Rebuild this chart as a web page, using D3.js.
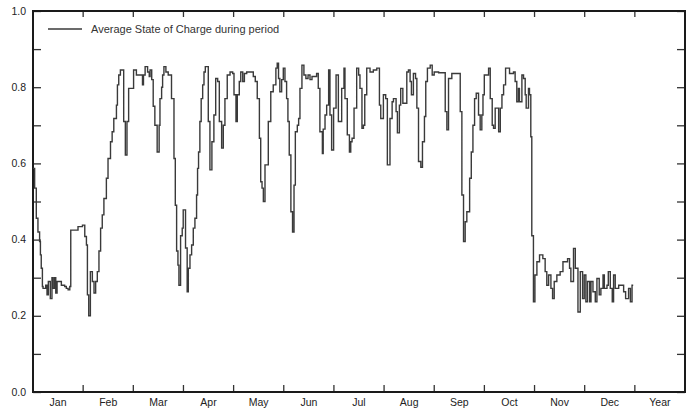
<!DOCTYPE html>
<html>
<head>
<meta charset="utf-8">
<script src="https://cdn.jsdelivr.net/npm/d3@7"></script>
<style>
  body { margin: 0; background: #fff; }
  svg { display: block; font-family: "Liberation Sans", Arial, sans-serif; }
</style>
</head>
<body>
<svg id="chart" width="691" height="409"></svg>
<script>
// x-axis categories (months + the annual column)
const months = ['Jan', 'Feb', 'Mar', 'Apr', 'May', 'Jun', 'Jul', 'Aug', 'Sep', 'Oct', 'Nov', 'Dec', 'Year'];
const yTickLabels = [0, 0.2, 0.4, 0.6, 0.8, 1.0];
const legendLabel = 'Average State of Charge during period';

// day of year where the step value changes, and the value from that day on
const changeDay = [
  0, 1, 2, 3, 4, 4.5, 5, 5.7, 6.1, 7.7, 8.5, 9.3, 10.5, 11.5, 12.1, 13, 13.8, 14.6, 17.2, 19.2, 20.2, 21.3, 22.3,
  22.9, 27.3, 30, 31.4, 32.4, 33, 33.8, 34.8, 36, 37, 38, 39, 40, 41, 42, 43, 44.5, 45.5, 47, 48, 49, 50.6, 51.2, 52, 53,
  55, 56, 57, 58, 61, 62.7, 66.4, 67, 68, 69.5, 70.5, 71, 72, 72.9, 73.9, 75.3, 76.5, 77, 78, 78.6, 79.4, 80.6, 82, 84,
  85.5, 86.3, 87.1, 87.9, 88.5, 89.5, 90.5, 91.1, 92.5, 93.5, 94.2, 95.2, 96.2, 97.2, 98.2, 99.2, 99.8, 100.4, 101.2, 102,
  102.9, 103.7, 104.5, 106.3, 107.3, 108.5, 109.7, 110.8, 112, 113, 114.4, 115.4, 116.4, 117.8, 119.5, 121.1, 121.9, 123.1,
  123.9, 125.1, 126, 127.2, 128.2, 129.6, 133.6, 134.8, 136, 137.3, 138.1, 138.9, 139.7, 140.7, 142.7, 144.2, 145.7, 147.3,
  148.1, 148.9, 149.7, 150.8, 151.8, 152.8, 153.8, 154.6, 155.4, 156.4, 157.4, 158.3, 159.1, 160.3, 161.1, 161.9, 163.1,
  164.3, 165.5, 166.8, 168, 169.2, 172, 173, 174, 175.5, 176, 177.1, 178.1, 179.3, 180.1, 181.1, 182.3, 183.8, 185.2, 187.2,
  188.6, 189.2, 190.6, 191.9, 192.7, 193.5, 194.7, 196.3, 197.5, 198.3, 199.5, 200.4, 201.2, 202.4, 204.4, 206.4, 208.5,
  210.1, 210.9, 212.5, 213.9, 214.9, 216.5, 217.8, 218.6, 220.2, 221, 222.2, 223, 224.3, 226.7, 227.7, 228.7, 229.5, 230.7,
  232, 232.8, 233.8, 235.2, 236.2, 237.4, 238.2, 239.2, 240.9, 242.1, 243.3, 246, 250, 251, 252, 254, 259.1, 260.1, 261.1,
  262.1, 263.1, 264.8, 265.8, 266.8, 267.8, 268.8, 270.2, 271.2, 272.2, 272.9, 273.7, 276.3, 277.3, 278.5, 279.3, 280.3,
  282.4, 283.4, 284.4, 285.4, 286.6, 289, 291.4, 292.4, 293.4, 294.4, 295, 296.5, 297.5, 298.5, 299.1, 300.5, 301.1, 301.9,
  302.5, 303.5, 304.4, 305.6, 307.2, 309.2, 310.6, 311.6, 312.7, 314.1, 315.1, 316.1, 317.7, 319.7, 321.4, 324.2, 325.4,
  326.2, 327.8, 328.9, 330.5, 331.9, 333.3, 334.3, 335.3, 336.3, 337.6, 338.4, 339.6, 341, 342, 343.4, 344.4, 345.7, 346.5,
  348.1, 348.9, 350.1, 351.3, 352.1, 353.1, 355.2, 358.2, 359.4, 361.2, 362.3, 363.3
];
const soc = [
  0.587, 0.535, 0.456, 0.42, 0.395, 0.36, 0.325, 0.277, 0.272, 0.28, 0.255, 0.29, 0.245, 0.30, 0.272, 0.30, 0.26, 0.29, 0.28, 0.277, 0.272, 0.268, 0.277,
  0.425, 0.434, 0.438, 0.408, 0.386, 0.255, 0.20, 0.316, 0.29, 0.26, 0.29, 0.316, 0.37, 0.43, 0.465, 0.508, 0.561, 0.613, 0.657, 0.683, 0.718, 0.753, 0.806, 0.832, 0.845,
  0.71, 0.622, 0.71, 0.797, 0.845, 0.832, 0.806, 0.832, 0.854, 0.84, 0.828, 0.845, 0.82, 0.75, 0.70, 0.63, 0.70, 0.77, 0.80, 0.832, 0.854, 0.84, 0.832, 0.77,
  0.613, 0.49, 0.37, 0.333, 0.28, 0.41, 0.43, 0.478, 0.378, 0.263, 0.325, 0.36, 0.386, 0.43, 0.456, 0.517, 0.587, 0.63, 0.71, 0.77,
  0.806, 0.84, 0.854, 0.71, 0.583, 0.657, 0.727, 0.823, 0.815, 0.71, 0.64, 0.70, 0.77, 0.832, 0.84, 0.836, 0.78, 0.71,
  0.78, 0.815, 0.84, 0.815, 0.836, 0.84, 0.828, 0.815, 0.77, 0.666, 0.552, 0.535, 0.50, 0.596, 0.71, 0.788, 0.806, 0.85,
  0.863, 0.823, 0.788, 0.82, 0.85, 0.815, 0.77, 0.71, 0.622, 0.473, 0.42, 0.543, 0.683, 0.70, 0.718, 0.797, 0.858,
  0.832, 0.823, 0.832, 0.82, 0.828, 0.836, 0.797, 0.683, 0.626, 0.69, 0.727, 0.753, 0.845, 0.727, 0.635, 0.745, 0.832, 0.71, 0.797,
  0.85, 0.77, 0.675, 0.63, 0.657, 0.666, 0.745, 0.85, 0.832, 0.797, 0.692, 0.70, 0.78, 0.85, 0.84, 0.845, 0.85,
  0.753, 0.718, 0.78, 0.77, 0.596, 0.718, 0.762, 0.77, 0.736, 0.68, 0.753, 0.797, 0.758, 0.84, 0.845, 0.815, 0.78, 0.836,
  0.823, 0.745, 0.605, 0.59, 0.657, 0.723, 0.815, 0.85, 0.858, 0.832, 0.84, 0.838, 0.736, 0.688, 0.823, 0.836, 0.736, 0.517, 0.395,
  0.447, 0.473, 0.561, 0.63, 0.70, 0.77, 0.784, 0.727, 0.688, 0.727, 0.78, 0.832, 0.85, 0.77, 0.70, 0.692, 0.745,
  0.683, 0.745, 0.78, 0.806, 0.85, 0.836, 0.84, 0.815, 0.762, 0.797, 0.762, 0.832, 0.823, 0.78, 0.745, 0.797, 0.78, 0.67,
  0.41, 0.237, 0.307, 0.342, 0.36, 0.35, 0.316, 0.28, 0.307, 0.272, 0.245, 0.29, 0.307, 0.316, 0.342, 0.35, 0.325,
  0.29, 0.377, 0.325, 0.21, 0.316, 0.245, 0.307, 0.237, 0.29, 0.237, 0.29, 0.263, 0.237, 0.298, 0.255, 0.272, 0.307, 0.272,
  0.28, 0.316, 0.272, 0.237, 0.307, 0.272, 0.28, 0.263, 0.245, 0.272, 0.237, 0.28
];
const lastDay = 364;

const margin = { top: 11, right: 6, bottom: 17, left: 33 };
const width = 691 - margin.left - margin.right;
const height = 409 - margin.top - margin.bottom;
const daysPerMonth = 365 / 12;

const svg = d3.select('#chart')
  .append('g')
  .attr('transform', `translate(${margin.left},${margin.top})`);

// scales
const xScale = d3.scaleLinear()
  .domain([0, daysPerMonth * months.length])
  .range([0, width]);
const xBand = d3.scaleBand()
  .domain(months)
  .range([0, width])
  .padding(0);
const yScale = d3.scaleLinear()
  .domain([0, 1])
  .range([height, 0]);

const tickColor = '#333';

// month boundary ticks (inward, bottom and top)
const boundaries = d3.range(1, months.length).map(i => xBand(months[i]));
svg.append('g').selectAll('line')
  .data(boundaries)
  .enter().append('line')
  .attr('x1', d => d).attr('x2', d => d)
  .attr('y1', height).attr('y2', height - 7)
  .attr('stroke', tickColor).attr('stroke-width', 1.3);
svg.append('g').selectAll('line')
  .data(boundaries)
  .enter().append('line')
  .attr('x1', d => d).attr('x2', d => d)
  .attr('y1', 0).attr('y2', 6)
  .attr('stroke', tickColor).attr('stroke-width', 1.3);

// month labels
svg.append('g').selectAll('text')
  .data(months)
  .enter().append('text')
  .attr('x', d => xBand(d) + xBand.bandwidth() / 2)
  .attr('y', height + 14)
  .attr('text-anchor', 'middle')
  .attr('font-size', '10.5px')
  .attr('fill', '#222')
  .text(d => d);

// y axis: ticks every 0.1 on both sides, labels every 0.2
svg.append('g')
  .call(d3.axisRight(yScale).tickValues(d3.range(0, 1.01, 0.1)).tickSize(8).tickFormat(''))
  .call(g => g.select('.domain').remove())
  .call(g => g.selectAll('.tick line').attr('stroke', tickColor).attr('stroke-width', 1.3));
svg.append('g')
  .attr('transform', `translate(${width},0)`)
  .call(d3.axisLeft(yScale).tickValues(d3.range(0, 1.01, 0.1)).tickSize(8).tickFormat(''))
  .call(g => g.select('.domain').remove())
  .call(g => g.selectAll('.tick line').attr('stroke', tickColor).attr('stroke-width', 1.3));

svg.append('g').selectAll('text')
  .data(yTickLabels)
  .enter().append('text')
  .attr('x', -7)
  .attr('y', d => yScale(d) + 3.5)
  .attr('text-anchor', 'end')
  .attr('font-size', '10.5px')
  .attr('fill', '#222')
  .text(d => d3.format('.1f')(d));

// frame
svg.append('rect')
  .attr('width', width)
  .attr('height', height)
  .attr('fill', 'none')
  .attr('stroke', '#1a1a1a')
  .attr('stroke-width', 2);

// step line
const points = changeDay.map((d, i) => ({ day: d, v: soc[i] }));
points.push({ day: lastDay, v: soc[soc.length - 1] });

const line = d3.line()
  .x(d => xScale(d.day))
  .y(d => yScale(d.v))
  .curve(d3.curveStepAfter);

svg.append('path')
  .datum(points)
  .attr('fill', 'none')
  .attr('stroke', '#3a3a3a')
  .attr('stroke-width', 1.4)
  .attr('d', line);

// legend
svg.append('line')
  .attr('x1', 15).attr('x2', 49)
  .attr('y1', 18).attr('y2', 18)
  .attr('stroke', '#3a3a3a')
  .attr('stroke-width', 1.4);
svg.append('text')
  .attr('x', 58)
  .attr('y', 21.5)
  .attr('font-size', '11px')
  .attr('fill', '#333')
  .text(legendLabel);
</script>
</body>
</html>
